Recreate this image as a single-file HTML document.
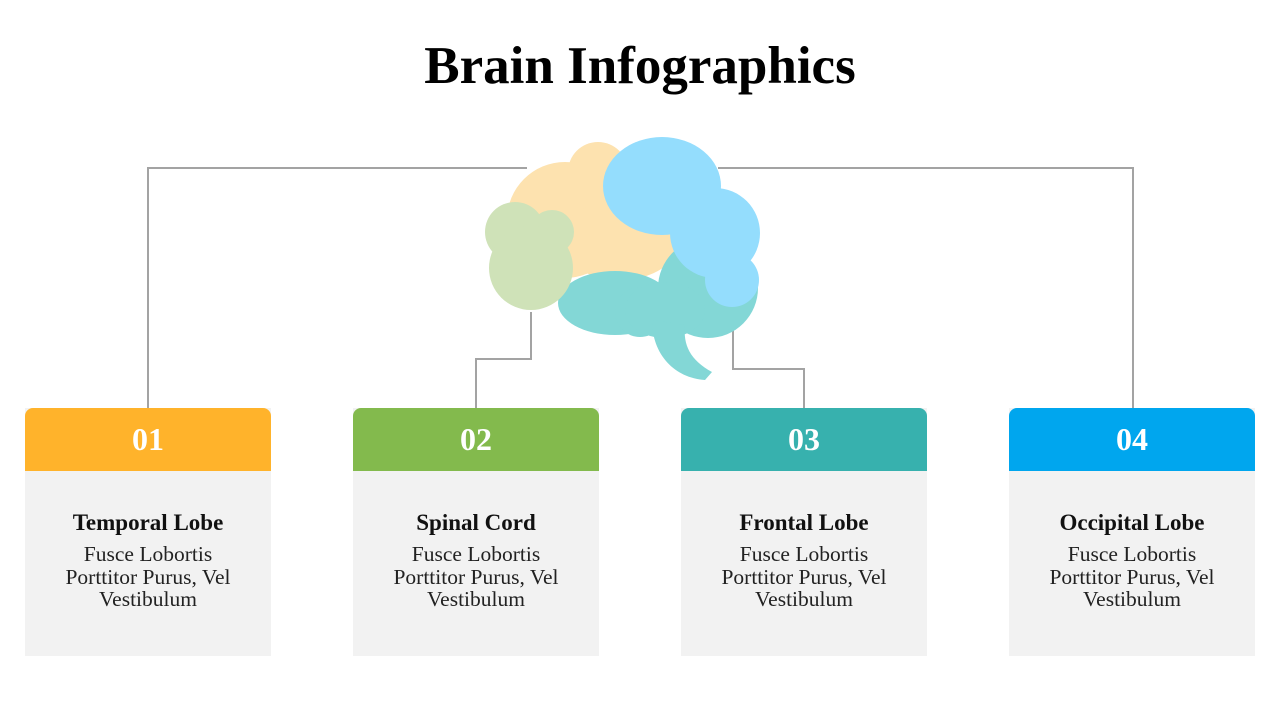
<!DOCTYPE html>
<html><head><style>
body{margin:0;width:1280px;height:720px;background:#fff;position:relative;overflow:hidden;font-family:"Liberation Serif",serif;}
h1{position:absolute;top:36px;left:0;width:1280px;text-align:center;margin:0;font-size:53px;font-weight:bold;color:#000;}
.card{position:absolute;top:408px;width:246px;height:248px;background:#f2f2f2;}
.hd{height:63px;border-radius:8px 8px 0 0;color:#fff;font-size:32px;font-weight:bold;text-align:center;line-height:63px;}
.t{position:absolute;top:102px;width:100%;text-align:center;font-size:23px;font-weight:bold;color:#111;}
.d{position:absolute;top:135px;width:100%;text-align:center;font-size:21.5px;line-height:22.5px;color:#222;}
</style></head><body>
<h1>Brain Infographics</h1>
<svg width="1280" height="720" style="position:absolute;left:0;top:0">
<g fill="none" stroke="#a3a3a3" stroke-width="2">
<polyline points="527,168 148,168 148,408"/>
<polyline points="718,168 1133,168 1133,408"/>
<polyline points="531,312 531,359 476,359 476,408"/>
<polyline points="733,330 733,369 804,369 804,408"/>
</g>
<g fill="#fde2af">
<circle cx="565" cy="220" r="58"/><circle cx="598" cy="172" r="30"/><ellipse cx="620" cy="240" rx="60" ry="40"/>
</g>
<g fill="#83d7d6">
<ellipse cx="615" cy="303" rx="57" ry="32"/><circle cx="640" cy="312" r="25"/><circle cx="708" cy="288" r="50"/>
<ellipse cx="665" cy="310" rx="40" ry="28"/>
<path d="M652,320 C652,355 675,378 705,380 L712,372 C690,360 683,345 685,325 Z"/>
</g>
<g fill="#cfe2b8">
<circle cx="515" cy="232" r="30"/><circle cx="552" cy="232" r="22"/><circle cx="531" cy="268" r="42"/>
</g>
<g fill="#94ddfd">
<ellipse cx="662" cy="186" rx="59" ry="49"/><circle cx="715" cy="233" r="45"/><circle cx="732" cy="280" r="27"/><circle cx="700" cy="210" r="30"/>
</g>
</svg>
<div class="card" style="left:25px"><div class="hd" style="background:#ffb32b">01</div><div class="t">Temporal Lobe</div><div class="d">Fusce Lobortis<br>Porttitor Purus, Vel<br>Vestibulum</div></div>
<div class="card" style="left:353px"><div class="hd" style="background:#83ba4d">02</div><div class="t">Spinal Cord</div><div class="d">Fusce Lobortis<br>Porttitor Purus, Vel<br>Vestibulum</div></div>
<div class="card" style="left:681px"><div class="hd" style="background:#37b1ae">03</div><div class="t">Frontal Lobe</div><div class="d">Fusce Lobortis<br>Porttitor Purus, Vel<br>Vestibulum</div></div>
<div class="card" style="left:1009px"><div class="hd" style="background:#00a6ee">04</div><div class="t">Occipital Lobe</div><div class="d">Fusce Lobortis<br>Porttitor Purus, Vel<br>Vestibulum</div></div>
</body></html>
